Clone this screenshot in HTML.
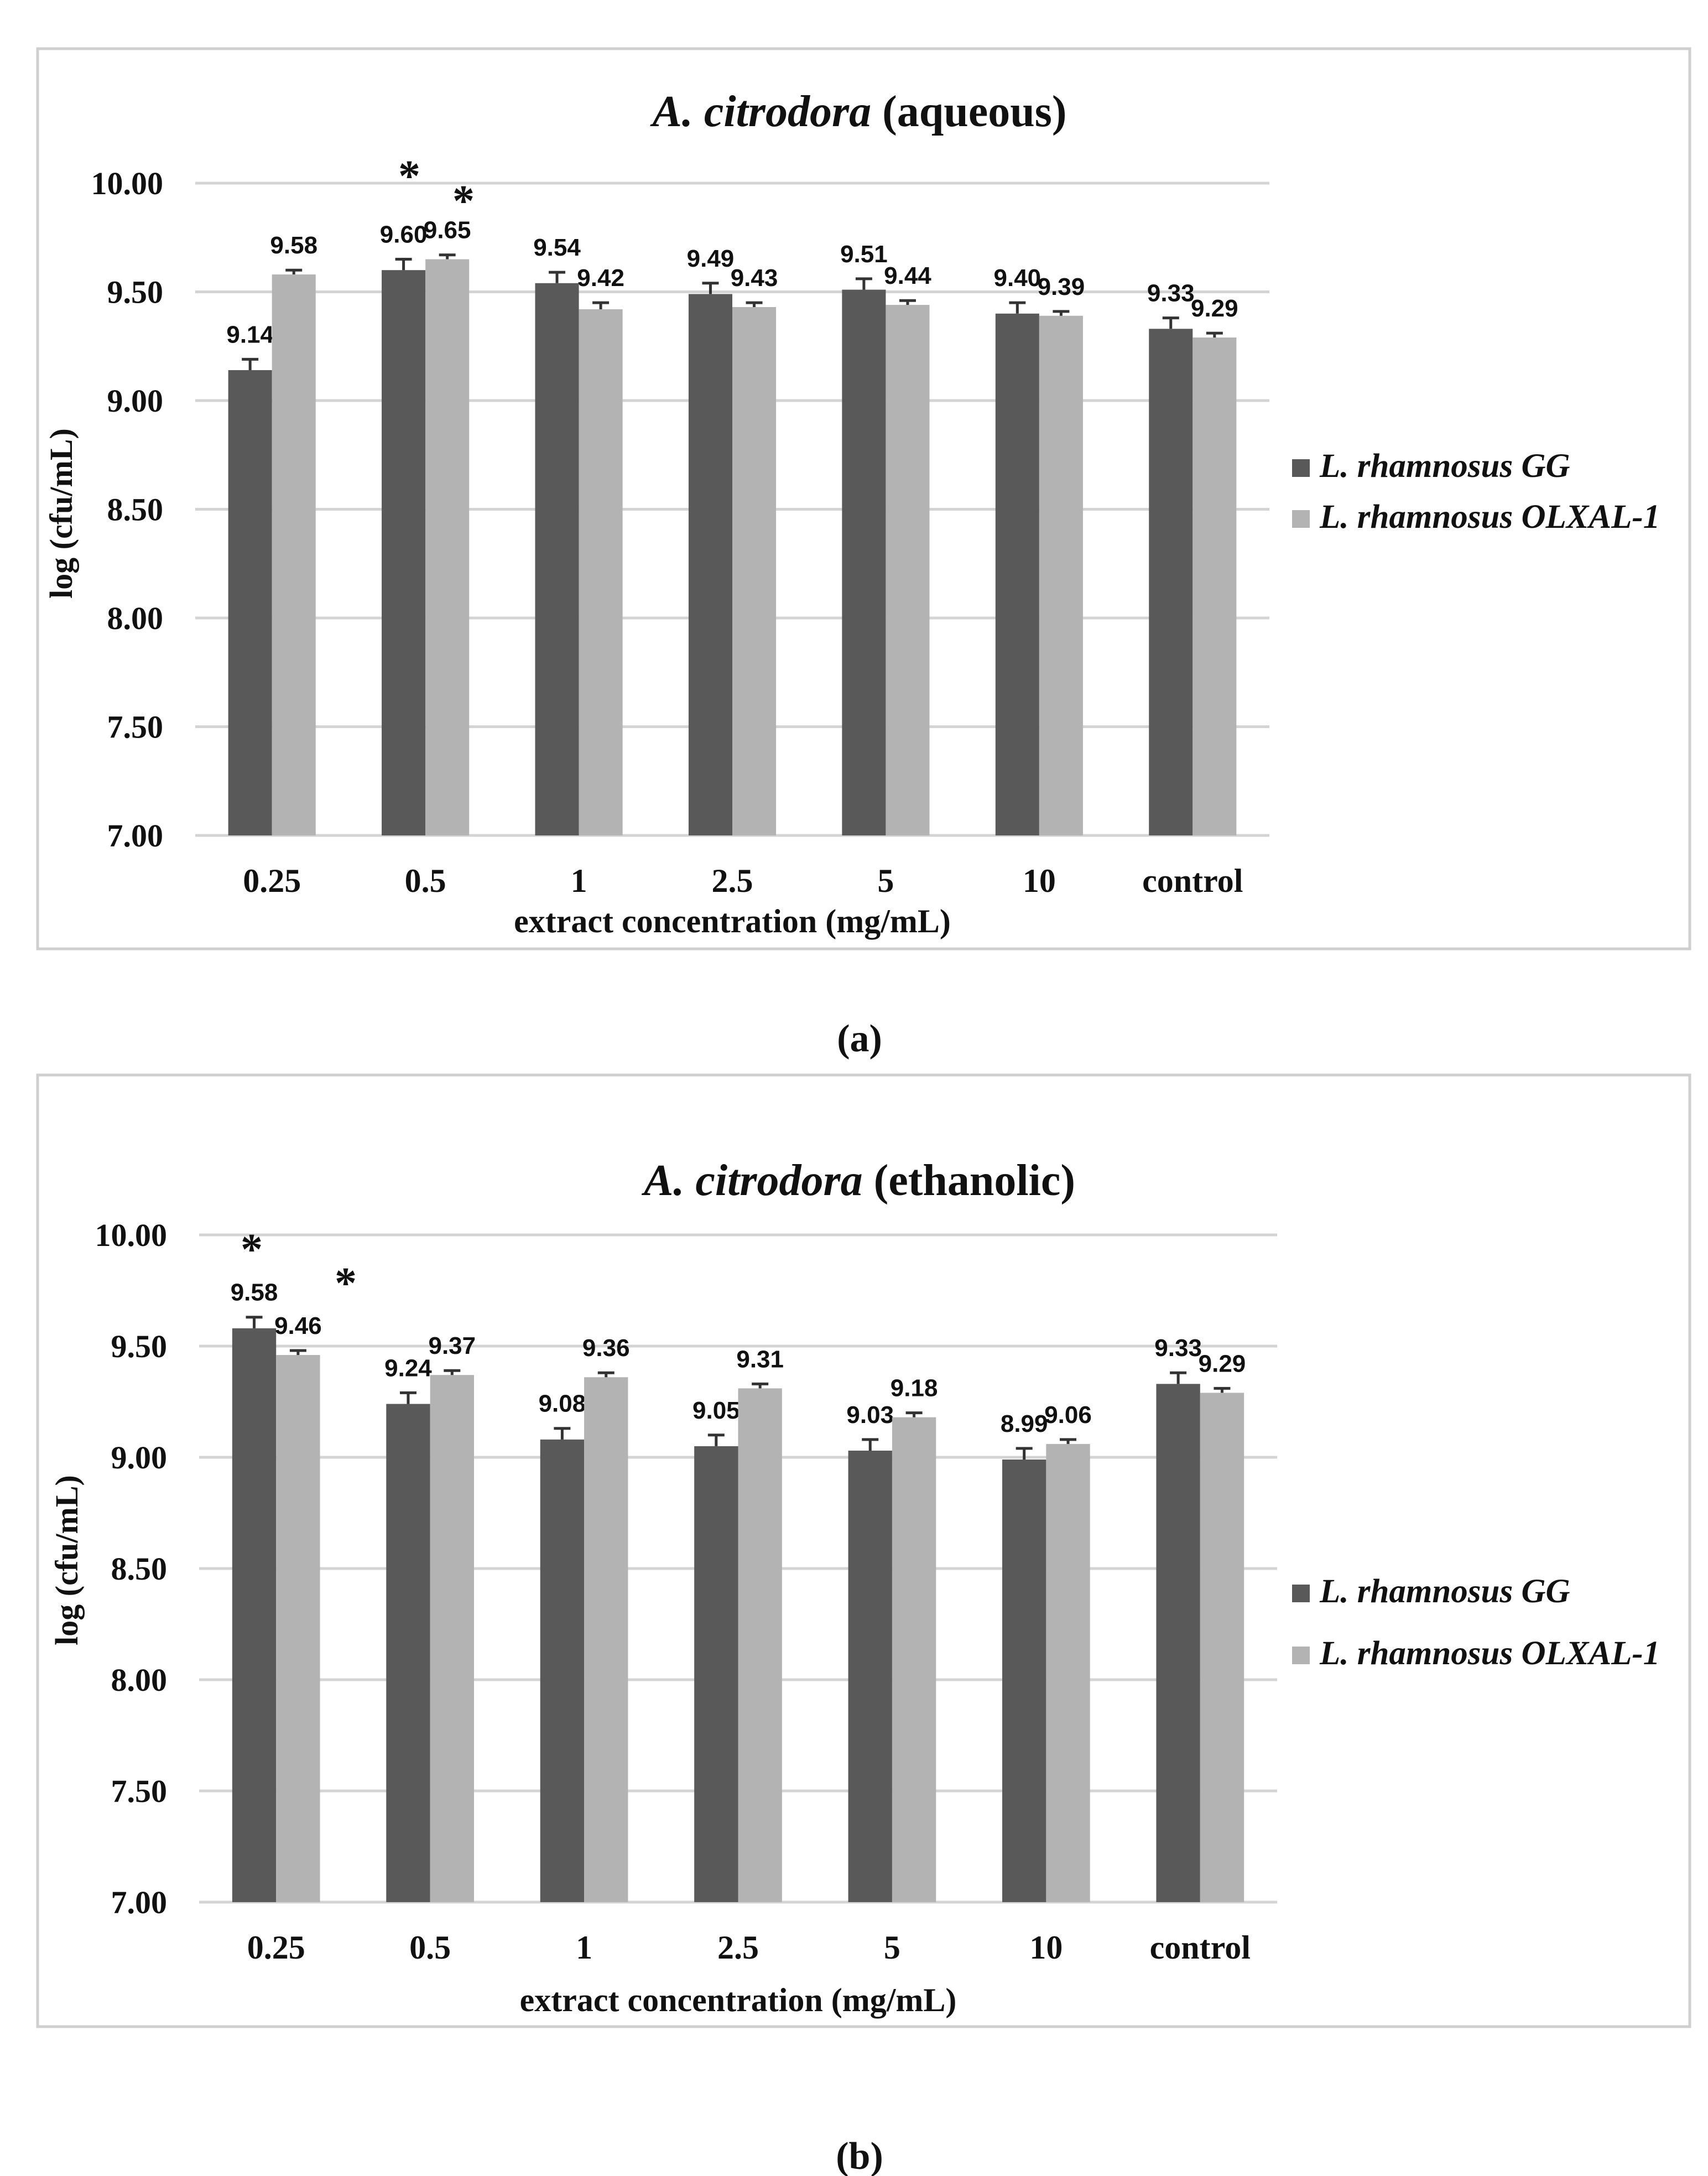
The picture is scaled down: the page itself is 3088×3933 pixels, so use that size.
<!DOCTYPE html>
<html><head><meta charset="utf-8"><style>
html,body{margin:0;padding:0;background:#fff}
svg{display:block}
text{font-family:"Liberation Serif",serif;font-weight:bold;fill:#111}
.v{font-family:"Liberation Sans",sans-serif;font-size:44px}
</style></head><body>
<svg id="fig" width="3088" height="3933" viewBox="0 0 3088 3933" xmlns="http://www.w3.org/2000/svg"></svg>
<script>
const categories = ["0.25","0.5","1","2.5","5","10","control"];
const aqGG = [9.14,9.60,9.54,9.49,9.51,9.40,9.33];
const aqOL = [9.58,9.65,9.42,9.43,9.44,9.39,9.29];
const aqErrGG = [0.05,0.05,0.05,0.05,0.05,0.05,0.05];
const aqErrOL = [0.02,0.02,0.03,0.02,0.02,0.02,0.02];
const etGG = [9.58,9.24,9.08,9.05,9.03,8.99,9.33];
const etOL = [9.46,9.37,9.36,9.31,9.18,9.06,9.29];
const etErrGG = [0.05,0.05,0.05,0.05,0.05,0.05,0.05];
const etErrOL = [0.02,0.02,0.02,0.02,0.02,0.02,0.02];
const yTicks = [7.00,7.50,8.00,8.50,9.00,9.50,10.00];
const seriesNames = ["L. rhamnosus GG","L. rhamnosus OLXAL-1"];

const NS="http://www.w3.org/2000/svg";
const svg=document.getElementById('fig');
function mk(tag,attrs,parent,txt){const e=document.createElementNS(NS,tag);for(const k in attrs)e.setAttribute(k,attrs[k]);if(txt!==undefined)e.textContent=txt;(parent||svg).appendChild(e);return e;}

function chart(cfg){
  const g=mk('g',{});
  
  
  const fr=mk('rect',{x:cfg.box[0],y:cfg.box[1],width:cfg.box[2]-cfg.box[0],height:cfg.box[3]-cfg.box[1],fill:'#fff',stroke:'#cfcfcf','stroke-width':5},g);
  
  
  const y=v=>cfg.y7+(cfg.y10-cfg.y7)*(v-7)/3;
  const cw=(cfg.x1-cfg.x0)/categories.length;
  const x=i=>cfg.x0+cw*(i+0.5);
  const t=mk('text',{x:cfg.titleX,y:cfg.titleY,'text-anchor':'middle','font-size':80},g);
  
  
  mk('tspan',{'font-style':'italic'},t,'A. citrodora');
  mk('tspan',{},t,' '+cfg.sub);
  yTicks.forEach(v=>{
    const l=mk('line',{x1:cfg.x0,x2:cfg.x1,y1:y(v),y2:y(v),stroke:'#d4d4d4','stroke-width':5},g);
    
    
    const tl=mk('text',{x:cfg.x0-58,y:y(v)+20,'text-anchor':'end','font-size':58},g,v.toFixed(2));
    
    
  });
  const bw=cw*0.285;
  categories.forEach((c,i)=>{
    [[cfg.gg,cfg.egg,'#595959',-1],[cfg.ol,cfg.eol,'#b3b3b3',0]].forEach(([vals,errs,col,off],s)=>{
      const bx=x(i)+off*bw, v=vals[i], top=y(v);
      const r=mk('rect',{x:bx,y:top,width:bw,height:y(7)-top,fill:col},g);
      
      
      const cx=bx+bw/2, ey=y(v+errs[i]);
      const eb=mk('path',{d:`M${cx} ${top}V${ey}M${cx-15} ${ey}H${cx+15}`,stroke:'#333','stroke-width':5,fill:'none'},g);
      
      
      const vl=mk('text',{x:cx,y:ey-30,'text-anchor':'middle',class:'v'},g,v.toFixed(2));
      
      
    });
    const xl=mk('text',{x:x(i),y:cfg.xlabY,'text-anchor':'middle','font-size':60},g,c);
    
    
  });
  cfg.stars.forEach(([xx,yy])=>{
    const st=mk('text',{x:xx,y:yy,'text-anchor':'middle','font-size':80,'font-family':'Liberation Sans'},g,'*');
    
    
  });
  const xt=mk('text',{x:(cfg.x0+cfg.x1)/2,y:cfg.xtitleY,'text-anchor':'middle','font-size':60},g,'extract concentration  (mg/mL)');
  
  
  const yt=mk('text',{x:0,y:0,'text-anchor':'middle','font-size':58,transform:`translate(${cfg.ytX},${cfg.ytY}) rotate(-90)`},g,'log (cfu/mL)');
  
  
  seriesNames.forEach((n,k)=>{
    const ly=cfg.legY+k*(cfg.legGap);
    const sw=mk('rect',{x:2336,y:ly-32,width:32,height:32,fill:k?'#b3b3b3':'#595959'},g);
    
    
    const lt=mk('text',{x:2386,y:ly,'font-size':61,'font-style':'italic','font-weight':'normal'},g,n);
    
    
  });
}

chart({name:'chart-aqueous',box:[68,88,3055,1715],sub:'(aqueous)',titleX:1554,titleY:228,
  x0:353,x1:2295,y10:331,y7:1510,gg:aqGG,ol:aqOL,egg:aqErrGG,eol:aqErrOL,
  xlabY:1612,xtitleY:1685,ytX:130,ytY:928,legY:862,legGap:92,
  stars:[[740,345],[838,390]]});
chart({name:'chart-ethanolic',box:[68,1943,3055,3663],sub:'(ethanolic)',titleX:1554,titleY:2160,
  x0:360,x1:2309,y10:2232,y7:3438,gg:etGG,ol:etOL,egg:etErrGG,eol:etErrOL,
  xlabY:3540,xtitleY:3635,ytX:140,ytY:2820,legY:2896,legGap:112,
  stars:[[455,2285],[625,2346]]});

const ca=mk('text',{x:1554,y:1900,'text-anchor':'middle','font-size':70,'font-weight':'normal'},svg);


mk('tspan',{},ca,'(');mk('tspan',{'font-weight':'bold'},ca,'a');mk('tspan',{},ca,')');
const cb=mk('text',{x:1554,y:3920,'text-anchor':'middle','font-size':70,'font-weight':'normal'},svg);


mk('tspan',{},cb,'(');mk('tspan',{'font-weight':'bold'},cb,'b');mk('tspan',{},cb,')');
</script>
</body></html>
